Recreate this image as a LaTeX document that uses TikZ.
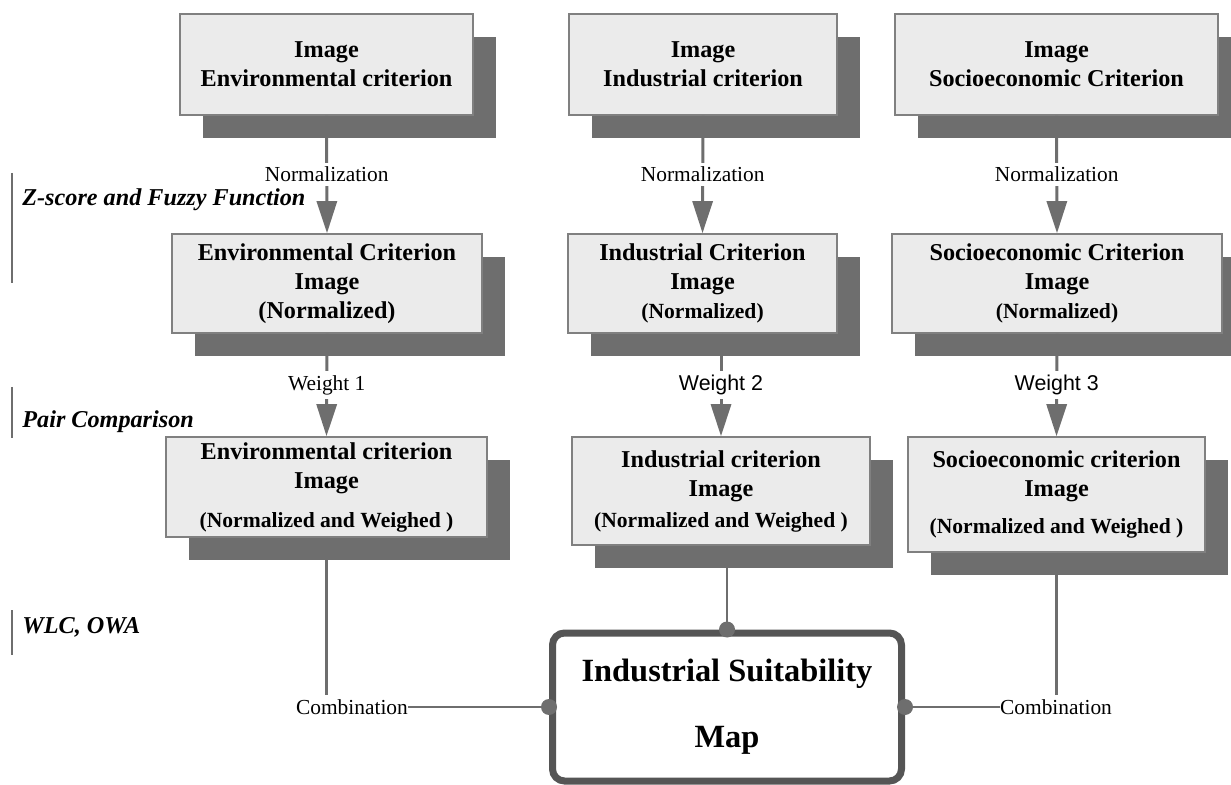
\documentclass[tikz,border=0pt]{standalone}
\usepackage{fontspec}
\setmainfont{Liberation Serif}
\setsansfont{Liberation Sans}
\usetikzlibrary{arrows.meta,shadows}

\definecolor{boxfill}{HTML}{EBEBEB}
\definecolor{boxline}{HTML}{808080}
\definecolor{shadowgray}{HTML}{6E6E6E}
\definecolor{linegray}{HTML}{6E6E6E}
\definecolor{mapline}{HTML}{555555}

\newcommand\boxtext{\fontsize{12.1}{14.5}\selectfont\bfseries}
\newcommand\smalltext{\fontsize{10.8}{14.5}\selectfont}
\newcommand\steptext{\fontsize{10.7}{13}\selectfont}

\begin{document}
\begin{tikzpicture}[x=0.5pt, y=-0.5pt,
    critbox/.style = {
      draw = boxline,
      fill = boxfill,
      line width = 0.8pt,
      align = center,
      inner sep = 0pt,
      font = \boxtext,
      drop shadow = {shadow xshift=11.5pt, shadow yshift=-11.5pt,
                     fill=shadowgray, opacity=1}
    },
    flow/.style = {
      draw = linegray,
      line width = 1.5pt,
      -{Triangle[length=16pt,width=10pt]}
    },
    link/.style = {draw = linegray, line width = 1.4pt},
    steplabel/.style = {fill = white, inner sep = 2pt, font = \steptext},
    weightlabel/.style = {fill = white, inner sep = 2pt,
                          font = \sffamily\steptext},
    comblabel/.style = {inner sep = 0pt, font = \steptext},
    stage/.style = {anchor = west, inner sep = 0pt,
                    font = \fontsize{12.1}{14}\selectfont\bfseries\itshape},
    stagebar/.style = {draw = linegray, line width = 0.8pt},
    joint/.style = {circle, fill = linegray, inner sep = 0pt,
                    minimum size = 8pt}
  ]
  \useasboundingbox (0,0) rectangle (1231,785);

  % stages on the left
  \node[stage] (zscore) at (22,200) {Z-score and Fuzzy Function};
  \node[stage] (pair)   at (22,422) {Pair Comparison};
  \node[stage] (wlc)    at (22,627) {WLC, OWA};
  \draw[stagebar] (12,173) -- (12,283);
  \draw[stagebar] (12,387) -- (12,438);
  \draw[stagebar] (12,610) -- (12,655);

  % criterion images
  \node[critbox, minimum width=146.5pt, minimum height=50.5pt]
    (env1) at (326.5,64.5) {Image\\Environmental criterion};
  \node[critbox, minimum width=134pt, minimum height=50.5pt]
    (ind1) at (703,64.5) {Image\\Industrial criterion};
  \node[critbox, minimum width=161.5pt, minimum height=50.5pt]
    (soc1) at (1056.5,64.5) {Image\\Socioeconomic Criterion};

  % normalized
  \node[critbox, minimum width=155pt, minimum height=49.5pt]
    (env2) at (327,283.5) {Environmental Criterion\\Image\\(Normalized)};
  \node[critbox, minimum width=134.5pt, minimum height=49.5pt]
    (ind2) at (702.5,283.5) {Industrial Criterion\\Image\\{\smalltext(Normalized)}};
  \node[critbox, minimum width=165pt, minimum height=49.5pt]
    (soc2) at (1057,283.5) {Socioeconomic Criterion\\Image\\{\smalltext(Normalized)}};

  % normalized and weighed
  \node[critbox, minimum width=160.5pt, minimum height=50pt]
    (env3) at (326.5,487) {Environmental criterion\\Image\\[5pt]{\smalltext(Normalized and Weighed )}};
  \node[critbox, minimum width=149pt, minimum height=54pt]
    (ind3) at (721,491) {Industrial criterion\\Image\\[1pt]{\smalltext(Normalized and Weighed )}};
  \node[critbox, minimum width=148.5pt, minimum height=57.5pt]
    (soc3) at (1056.5,494.5) {Socioeconomic criterion\\Image\\[4pt]{\smalltext(Normalized and Weighed )}};

  % result
  \node[draw=mapline, line width=3.5pt, rounded corners=6pt, fill=white,
        minimum width=174.5pt, minimum height=74pt, align=center,
        font=\fontsize{16.2}{20}\selectfont\bfseries]
    (map) at (727,707) {Industrial Suitability\\[13pt]Map};

  \node[comblabel] (combL) at (352,707) {Combination};
  \node[comblabel] (combR) at (1056,707) {Combination};

  % arrows
  \draw[flow] (env1.south) -- node[steplabel] {Normalization} (env2.north);
  \draw[flow] (ind1.south) -- node[steplabel] {Normalization} (ind2.north);
  \draw[flow] (soc1.south) -- node[steplabel] {Normalization} (soc2.north);

  \draw[flow] (env2.south) -- node[steplabel] {Weight 1} (env3.north);
  \draw[flow] (ind3.north |- ind2.south) -- node[weightlabel] {Weight 2} (ind3.north);
  \draw[flow] (soc2.south) -- node[weightlabel] {Weight 3} (soc3.north);

  % combination
  \draw[link] (env3.south) -- ([yshift=2pt]env3.south |- combL.north);
  \draw[link] (combL.east) -- (map.west);
  \draw[link] (soc3.south) -- ([yshift=2pt]soc3.south |- combR.north);
  \draw[link] (combR.west) -- (map.east);
  \draw[link] (map.north |- ind3.south) -- (map.north);

  \node[joint] (jl) at (map.west) {};
  \node[joint] (jr) at (map.east) {};
  \node[joint] (jt) at (map.north) {};
\end{tikzpicture}
\end{document}
